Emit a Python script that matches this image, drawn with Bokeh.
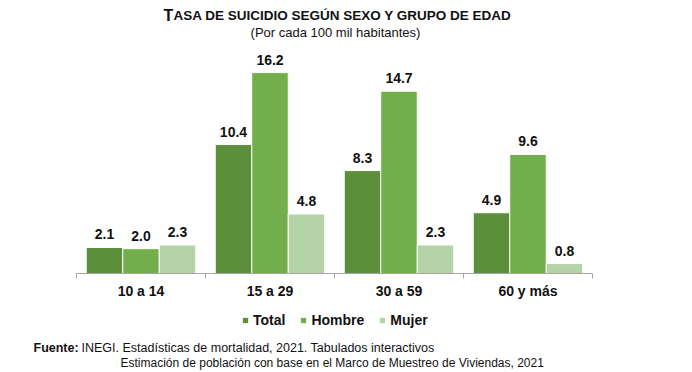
from bokeh.plotting import figure
from bokeh.models import (ColumnDataSource, Range1d, LinearAxis, FixedTicker,
                          Legend, LegendItem, Label)
from bokeh.transform import dodge
from bokeh.core.properties import value
from bokeh.embed import file_html
from bokeh.resources import INLINE

# ---- data ----
categories = ["10 a 14", "15 a 29", "30 a 59", "60 y más"]
total = [2.1, 10.4, 8.3, 4.9]
hombre = [2.0, 16.2, 14.7, 9.6]
mujer = [2.3, 4.8, 2.3, 0.8]
series_keys = ["total", "hombre", "mujer"]
series_names = ["Total", "Hombre", "Mujer"]
colors = ["#5b8f3a", "#72ae4b", "#b4d3a6"]

title_first = "T"
title_rest = "ASA DE SUICIDIO SEGÚN SEXO Y GRUPO DE EDAD"
subtitle = "(Por cada 100 mil habitantes)"
source_label = "Fuente:"
source_line1 = "INEGI. Estadísticas de mortalidad, 2021. Tabulados interactivos"
source_line2 = "Estimación de población con base en el Marco de Muestreo de Viviendas, 2021"

FONT = "Liberation Sans"
TXT = "#111111"
W, H = 692, 372

n = len(categories)
centers = [i + 0.5 for i in range(n)]
bounds = [float(i) for i in range(n + 1)]

src = ColumnDataSource(dict(
    cat=categories, pos=centers,
    total=total, hombre=hombre, mujer=mujer,
    total_lbl=[f"{v:.1f}" for v in total],
    hombre_lbl=[f"{v:.1f}" for v in hombre],
    mujer_lbl=[f"{v:.1f}" for v in mujer],
))

# plot area geometry (pixels): categories span x 76..592, zero line at y 273
px_per_cat = 129.0
px_per_unit = 12.4
x0_px, y0_px = 76, 273
p = figure(width=W, height=H,
           x_range=Range1d(-x0_px / px_per_cat, n + (W - x0_px - n * px_per_cat) / px_per_cat),
           y_range=Range1d(-(H - y0_px) / px_per_unit, y0_px / px_per_unit),
           x_axis_type=None, y_axis_type=None,
           output_backend="svg", toolbar_location=None,
           min_border=0, min_border_left=0, min_border_right=0,
           min_border_top=0, min_border_bottom=0, margin=0)
p.outline_line_color = None
p.background_fill_color = "white"
p.border_fill_color = "white"

xaxis = LinearAxis(
    fixed_location=0, bounds=(0, n),
    ticker=FixedTicker(ticks=centers, minor_ticks=bounds),
    major_label_overrides={c: lab for c, lab in zip(centers, categories)},
    major_tick_line_color=None, major_tick_in=0, major_tick_out=0,
    minor_tick_in=0, minor_tick_out=5, minor_tick_line_color="#a6a6a6",
    axis_line_color="#a6a6a6", axis_line_width=1,
    major_label_standoff=4,
    major_label_text_font=FONT, major_label_text_font_style="bold",
    major_label_text_font_size="14px", major_label_text_color=TXT,
)
p.add_layout(xaxis, "below")

bw = 0.283
offsets = [-bw, 0.0, bw]
items = []
for key, name, col, off in zip(series_keys, series_names, colors, offsets):
    r = p.vbar(x=dodge("pos", off), top=key, width=bw, source=src,
               fill_color=col, line_color="white", line_width=1)
    p.text(x=dodge("pos", off), y=key, text=key + "_lbl", source=src,
           text_align="center", text_baseline="alphabetic", y_offset=-13,
           text_font=value(FONT), text_font_style="bold", text_font_size="14px",
           text_color=TXT)
    items.append(LegendItem(label=name, renderers=[r]))

legend = Legend(items=items, orientation="horizontal", location=(241, 44),
                glyph_width=8, glyph_height=8, label_standoff=4, spacing=14,
                padding=0, margin=0, border_line_color=None, background_fill_alpha=0,
                label_text_font=FONT, label_text_font_style="bold",
                label_text_font_size="14px", label_text_color=TXT, label_height=16)
p.add_layout(legend, "center")

def lab(x, y, text, size, bold=False, align="left", baseline="middle"):
    p.add_layout(Label(x=x, y=H - y, x_units="screen", y_units="screen", text=text,
                       text_font=FONT, text_font_style="bold" if bold else "normal",
                       text_font_size=size, text_align=align, text_baseline=baseline,
                       text_color=TXT))

# titles (positions in pixels from the top-left)
lab(163, 15, title_first, "16px", bold=True, baseline="alphabetic")
lab(173, 15, title_rest, "13.5px", bold=True, baseline="alphabetic")
lab(335, 32, subtitle, "13px", align="center")

# source note
lab(33, 347, source_label, "12.5px", bold=True)
lab(81, 347, source_line1, "12.5px")
lab(120, 362, source_line2, "12px")

open("out.html", "w").write(file_html(p, INLINE))
